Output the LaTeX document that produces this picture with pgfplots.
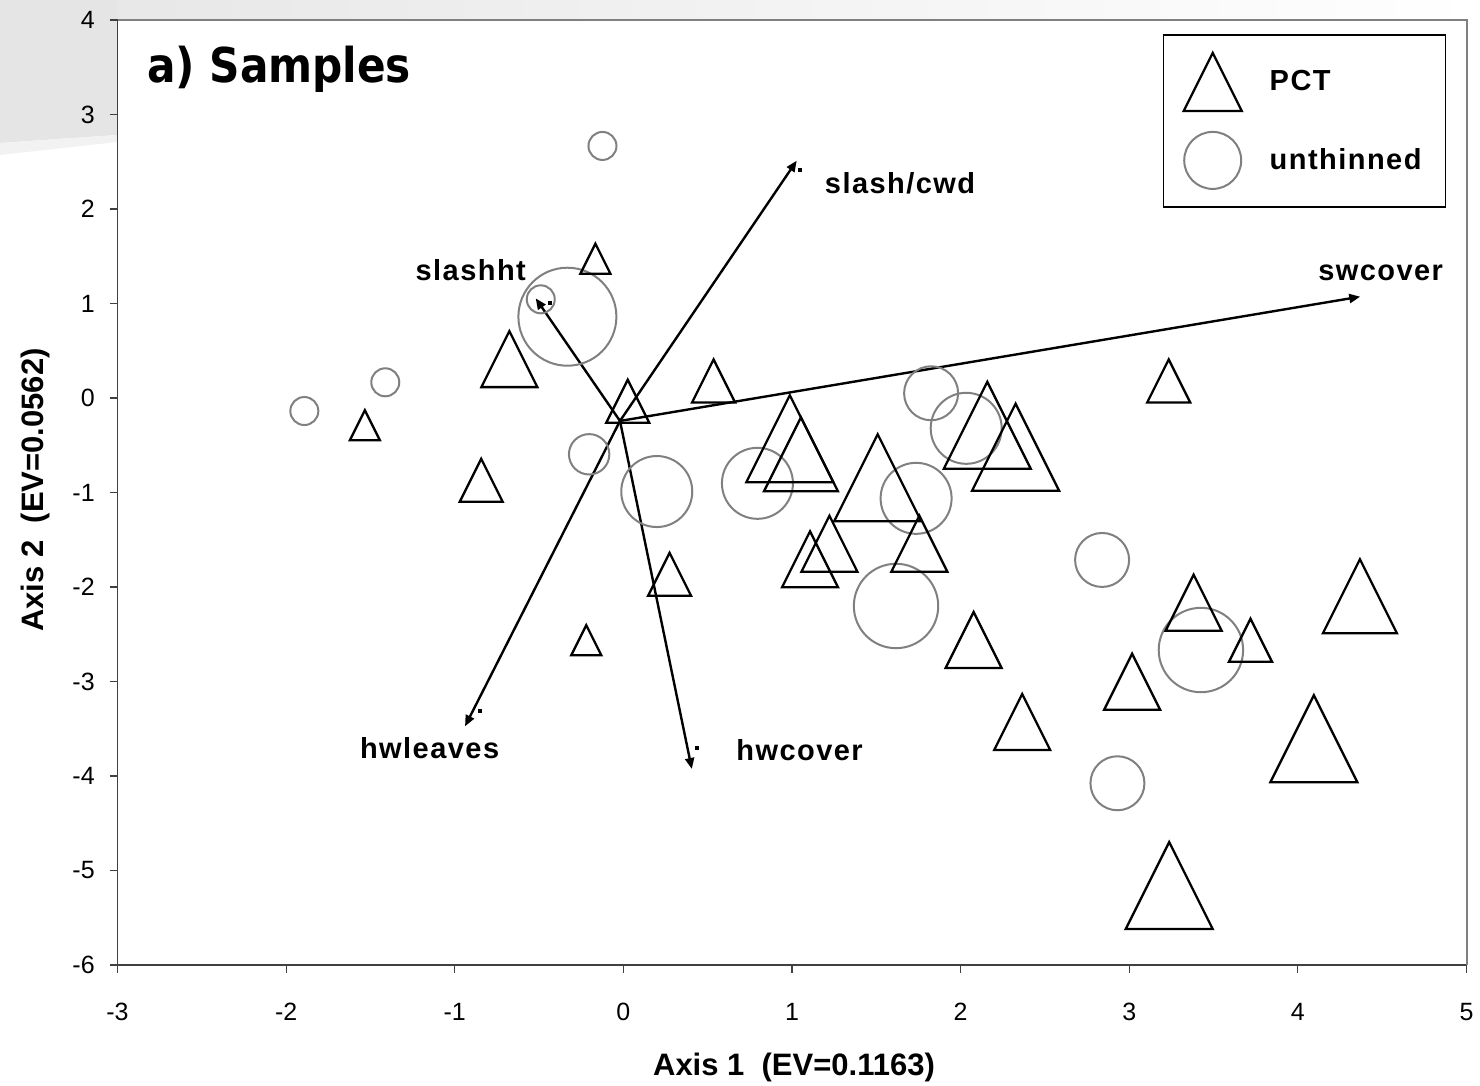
\documentclass[border=0pt]{standalone}
\usepackage{fontspec}
\setmainfont{Liberation Sans}
\newfontfamily\lblfont{Liberation Sans}[LetterSpace=5]
\newfontfamily\titlefont{DejaVu Sans}[FakeStretch=0.88]
\usepackage{pgfplots}
\usepackage{pgfplotstable}
\pgfplotsset{compat=1.18}
\usetikzlibrary{arrows.meta}

\pgfdeclareplotmark{etri}{%
  \pgfpathmoveto{\pgfqpoint{0pt}{\pgfplotmarksize}}%
  \pgfpathlineto{\pgfqpoint{\pgfplotmarksize}{-\pgfplotmarksize}}%
  \pgfpathlineto{\pgfqpoint{-\pgfplotmarksize}{-\pgfplotmarksize}}%
  \pgfpathclose
  \pgfusepathqstroke}

\pgfplotstableread{
x y s
-0.166 1.474 7.5
-0.676 0.411 14
-1.533 -0.289 7.5
-0.843 -0.871 10.75
0.026 -0.035 10.75
0.535 0.180 10.75
0.987 -0.431 21.75
1.053 -0.596 18.5
1.508 -0.844 21.75
2.158 -0.289 21.75
2.326 -0.521 21.75
3.234 0.180 10.75
0.274 -1.866 10.75
-0.220 -2.563 7.5
1.222 -1.542 14
1.107 -1.707 14
1.755 -1.542 14
2.077 -2.561 14
2.365 -3.429 14
3.017 -3.003 14
3.382 -2.166 14
3.719 -2.564 10.75
4.368 -2.098 18.5
4.095 -3.606 21.75
3.237 -5.159 21.75
}\pct

\pgfplotstableread{
x y s
-0.124 2.667 7.0
-0.490 1.044 7.0
-0.332 0.860 24.5
-1.412 0.166 7.0
-1.892 -0.138 7.0
-0.203 -0.596 10.1
0.198 -0.990 17.75
0.795 -0.903 17.75
1.825 0.050 13.5
2.033 -0.321 17.75
1.736 -1.062 17.75
1.617 -2.201 21.1
2.839 -1.714 13.5
3.425 -2.667 21.1
2.930 -4.077 13.5
}\unth

\begin{document}
\begin{tikzpicture}
% background (pixel frame: x right, y down, 1px = 0.5pt)
\begin{scope}[x=0.5pt,y=-0.5pt,shift={(0pt,543pt)}]
  \shade[left color=gray!20, right color=white] (0,0) rectangle (1480,20);
  \fill[gray!20] (0,0) -- (117.5,0) -- (117.5,135) -- (0,143) -- cycle;
  \fill[gray!10] (0,143) -- (117.5,135) -- (117.5,142) -- (0,155) -- cycle;
  \fill[white] (117.5,20) rectangle (1466.5,965);
\end{scope}

\begin{axis}[
  at={(58.75pt,60.5pt)}, anchor=south west,
  scale only axis, width=674.5pt, height=472.5pt,
  xmin=-3, xmax=5, ymin=-6, ymax=4,
  axis lines=left, axis line style={-, black!75, line width=0.8pt},
  xtick={-3,-2,-1,0,1,2,3,4,5},
  ytick={-6,-5,-4,-3,-2,-1,0,1,2,3,4},
  xticklabels={}, yticklabels={},
  tick align=outside, major tick length=4pt,
  tick style={black!75, line width=0.6pt},
  clip=false,
  legend style={at={(0.775,0.985)}, anchor=north west, draw=black,
    line width=0.75pt, inner xsep=10pt, inner ysep=9pt, row sep=10.5pt,
    font=\lblfont\bfseries\fontsize{14.5}{17}\selectfont,
    /tikz/every odd column/.append style={column sep=12pt}},
  legend cell align=left,
  legend image code/.code={\draw[#1] plot coordinates {(15pt,0pt)};},
]
\addlegendimage{only marks, mark=etri, mark size=14.5pt, line width=1.1pt, black}
\addlegendentry{PCT}
\addlegendimage{only marks, mark=o, mark size=14.25pt, line width=1pt, gray}
\addlegendentry{unthinned}

\addplot[forget plot, scatter, only marks, mark=o, line width=1pt,
  point meta=\thisrow{s},
  scatter/use mapped color={draw=gray},
  visualization depends on={\thisrow{s} \as \ms},
  scatter/@pre marker code/.append style={/tikz/mark size=\ms pt}]
  table[x=x,y=y] {\unth};

\addplot[forget plot, scatter, only marks, mark=etri, line width=1.15pt,
  point meta=\thisrow{s},
  scatter/use mapped color={draw=black},
  visualization depends on={\thisrow{s} \as \ms},
  scatter/@pre marker code/.append style={/tikz/mark size=\ms pt}]
  table[x=x,y=y] {\pct};

\addplot[forget plot, -{Triangle[length=5.5pt,width=4.5pt]}, line width=1.2pt, black]
  coordinates {(-0.020,-0.243) (1.028,2.511)};
\addplot[forget plot, -{Triangle[length=5.5pt,width=4.5pt]}, line width=1.2pt, black]
  coordinates {(-0.020,-0.243) (4.370,1.072)};
\addplot[forget plot, -{Triangle[length=5.5pt,width=4.5pt]}, line width=1.2pt, black]
  coordinates {(-0.020,-0.243) (-0.520,1.055)};
\addplot[forget plot, -{Triangle[length=5.5pt,width=4.5pt]}, line width=1.2pt, black]
  coordinates {(-0.020,-0.243) (-0.939,-3.474)};
\addplot[forget plot, -{Triangle[length=5.5pt,width=4.5pt]}, line width=1.2pt, black]
  coordinates {(-0.020,-0.243) (0.406,-3.926)};
\addplot[forget plot, only marks, mark=square*, mark size=0.8pt, black]
  coordinates {(1.048,2.413) (-0.435,1.008) (-0.850,-3.312) (0.435,-3.707)};

% tick labels
\pgfplotsinvokeforeach{-3,-2,-1,0,1,2,3,4,5}{%
  \node[anchor=center, inner sep=0pt, font=\fontsize{12.5}{15}\selectfont]
    at (axis cs:#1,-6.497) {#1};}
\pgfplotsinvokeforeach{-6,-5,-4,-3,-2,-1,0,1,2,3,4}{%
  \node[anchor=east, inner sep=0pt, font=\fontsize{12.5}{15}\selectfont]
    at (axis cs:-3.133,#1) {#1};}

\begin{scope}[every node/.style={anchor=base, inner sep=0pt,
    font=\lblfont\bfseries\fontsize{14.5}{17}\selectfont}]
\node at (axis cs:1.641,2.159) {slash/cwd};
\node at (axis cs:4.491,1.238) {swcover};
\node at (axis cs:-0.905,1.238) {slashht};
\node at (axis cs:-1.149,-3.810) {hwleaves};
\node at (axis cs:1.045,-3.841) {hwcover};
\end{scope}
\end{axis}

\begin{scope}[x=0.5pt,y=-0.5pt,shift={(0pt,543pt)}]
  \draw[gray, line width=1pt] (117.5,20) -- (1466.5,20) -- (1466.5,965);
  \node[anchor=base west, inner sep=0pt, font=\titlefont\bfseries\fontsize{24}{28}\selectfont]
    at (146.7,82.7) {a) Samples};
  \node[anchor=base, inner sep=0pt, font=\bfseries\fontsize{15.5}{18}\selectfont]
    at (794,1076) {Axis 1\ \ (EV=0.1163)};
  \node[anchor=base, rotate=90, inner sep=0pt, font=\bfseries\fontsize{15.5}{18}\selectfont]
    at (43,490) {Axis 2\ \ (EV=0.0562)};
\end{scope}

\pgfresetboundingbox
\path[use as bounding box] (0,0) rectangle (740pt,543pt);
\end{tikzpicture}
\end{document}
